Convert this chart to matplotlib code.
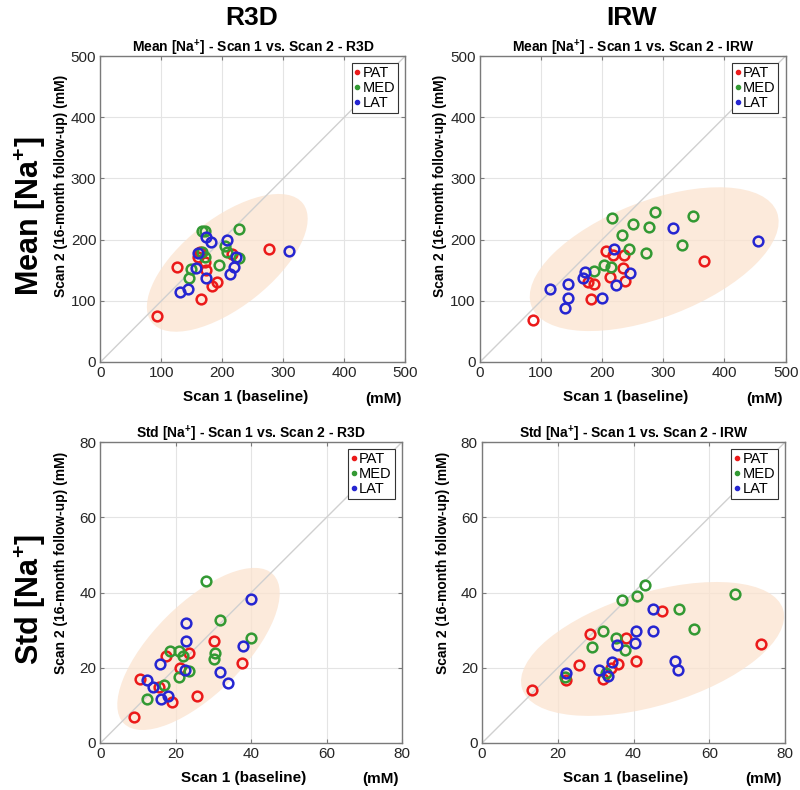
import numpy as np
import matplotlib
matplotlib.use("Agg")
import matplotlib.pyplot as plt
from matplotlib.patches import Ellipse
from matplotlib.lines import Line2D

plt.rcParams["font.family"] = ["Liberation Sans", "DejaVu Sans"]
plt.rcParams["mathtext.fontset"] = "custom"
plt.rcParams["mathtext.rm"] = "Liberation Sans"
plt.rcParams["mathtext.bf"] = "Liberation Sans:bold"
plt.rcParams["mathtext.default"] = "bf"

# ---- data ----
# Mean [Na+], R3D
r3d_mean_pat_x = [92, 126, 165, 183, 191, 173, 171, 160, 163, 216, 276]
r3d_mean_pat_y = [75, 155, 103, 124, 130, 150, 163, 172, 180, 177, 184]
r3d_mean_med_x = [166, 171, 227, 204, 207, 228, 194, 148, 146, 166, 171]
r3d_mean_med_y = [214, 214, 217, 189, 180, 170, 159, 152, 137, 180, 172]
r3d_mean_lat_x = [131, 144, 157, 173, 160, 173, 181, 208, 219, 212, 223, 310]
r3d_mean_lat_y = [115, 120, 153, 137, 178, 204, 196, 200, 155, 144, 172, 182]

# Mean [Na+], IRW
irw_mean_pat_x = [86, 181, 177, 187, 212, 238, 234, 236, 206, 218, 367]
irw_mean_pat_y = [68, 103, 130, 127, 139, 133, 154, 175, 182, 175, 165]
irw_mean_med_x = [216, 286, 349, 251, 277, 233, 244, 331, 272, 203, 214, 187]
irw_mean_med_y = [236, 245, 239, 226, 220, 207, 184, 191, 178, 158, 155, 148]
irw_mean_lat_x = [115, 144, 144, 139, 172, 169, 200, 223, 246, 220, 315, 455]
irw_mean_lat_y = [120, 128, 104, 88, 147, 137, 104, 126, 146, 184, 219, 197]

# Std [Na+], R3D
r3d_std_pat_x = [8.8, 10.6, 15.6, 17.5, 19, 21, 23.4, 25.5, 30, 37.5]
r3d_std_pat_y = [7, 17, 15, 23, 11, 20, 24, 12.5, 27, 21.3]
r3d_std_med_x = [28, 31.7, 40, 30.5, 30, 18.4, 20.8, 21.8, 20.9, 16.8, 12.3, 23.4]
r3d_std_med_y = [43, 32.7, 28, 24, 22.2, 24.4, 24.4, 23, 17.5, 15.3, 11.6, 19.2]
r3d_std_lat_x = [39.8, 22.6, 22.8, 37.9, 15.7, 22.4, 31.7, 33.8, 12.3, 14, 18, 16]
r3d_std_lat_y = [38.2, 31.9, 27.2, 25.9, 21.1, 19.5, 18.8, 15.9, 16.7, 14.9, 12.5, 11.6]

# Std [Na+], IRW
irw_std_pat_x = [13.2, 22.1, 25.6, 28.6, 31.9, 34, 36, 38, 40.7, 47.6, 73.6]
irw_std_pat_y = [14, 16.8, 20.7, 29, 17.1, 20, 21, 28, 21.7, 35, 26.2]
irw_std_med_x = [43, 37, 41, 66.8, 52, 56, 31.9, 35.4, 29, 37.7, 21.8, 32.8]
irw_std_med_y = [42, 38, 39, 39.6, 35.5, 30.4, 29.7, 28, 25.5, 24.8, 17.6, 18.5]
irw_std_lat_x = [45, 40.7, 45.2, 40.3, 35.7, 34.4, 30.9, 33.2, 22.2, 50.8, 51.8]
irw_std_lat_y = [35.5, 29.8, 29.7, 26.6, 26, 21.5, 19.5, 17.8, 18.5, 21.8, 19.4]

groups = ["PAT", "MED", "LAT"]
colors = [(0.92, 0.1, 0.1), (0.2, 0.6, 0.2), (0.15, 0.15, 0.82)]

# ellipse: centre x, centre y, width, height, angle
ell_r3d_mean = [208, 162, 315, 145, 38]
ell_irw_mean = [285, 168, 430, 190, 21]
ell_r3d_std = [26, 25, 56, 24, 45]
ell_irw_std = [45, 25, 72, 30, 17]

panels = [
    ("Mean [Na$^{+}$] - Scan 1 vs. Scan 2 - R3D", 500, 100, ell_r3d_mean,
     [(r3d_mean_pat_x, r3d_mean_pat_y), (r3d_mean_med_x, r3d_mean_med_y), (r3d_mean_lat_x, r3d_mean_lat_y)]),
    ("Mean [Na$^{+}$] - Scan 1 vs. Scan 2 - IRW", 500, 100, ell_irw_mean,
     [(irw_mean_pat_x, irw_mean_pat_y), (irw_mean_med_x, irw_mean_med_y), (irw_mean_lat_x, irw_mean_lat_y)]),
    ("Std [Na$^{+}$] - Scan 1 vs. Scan 2 - R3D", 80, 20, ell_r3d_std,
     [(r3d_std_pat_x, r3d_std_pat_y), (r3d_std_med_x, r3d_std_med_y), (r3d_std_lat_x, r3d_std_lat_y)]),
    ("Std [Na$^{+}$] - Scan 1 vs. Scan 2 - IRW", 80, 20, ell_irw_std,
     [(irw_std_pat_x, irw_std_pat_y), (irw_std_med_x, irw_std_med_y), (irw_std_lat_x, irw_std_lat_y)]),
]

positions = [
    [0.1256, 0.5418, 0.381, 0.3873],
    [0.6000, 0.5418, 0.382, 0.3873],
    [0.1256, 0.0595, 0.377, 0.3810],
    [0.6025, 0.0595, 0.379, 0.3810],
]
ylab_pos = [0.575, 0.575, 0.598, 0.598]

fig = plt.figure(figsize=(8, 7.9), dpi=100)

for i, (title, lim, step, ell, series) in enumerate(panels):
    ax = fig.add_axes(positions[i])
    ax.set_xlim(0, lim)
    ax.set_ylim(0, lim)
    ax.set_xticks(np.arange(0, lim + 1, step))
    ax.set_yticks(np.arange(0, lim + 1, step))
    ax.grid(True, color="#e4e4e4", linewidth=0.8, zorder=0)
    ax.set_axisbelow(True)

    e = Ellipse((ell[0], ell[1]), ell[2], ell[3], angle=ell[4],
                facecolor="#fbe3cf", edgecolor="none", alpha=0.75, zorder=1)
    ax.add_patch(e)
    ax.plot([0, lim], [0, lim], color="#d0d0d0", linewidth=1, zorder=2)

    for (xs, ys), c in zip(series, colors):
        ax.plot(xs, ys, linestyle="none", marker="o", markersize=7,
                markerfacecolor="none", markeredgecolor=c, markeredgewidth=1.8, zorder=3)

    handles = [Line2D([], [], linestyle="none", marker=".", markersize=6, color=c)
               for c in colors]
    leg = ax.legend(handles, groups, loc="upper right", fontsize=10.5,
                    handlelength=0.4, handletextpad=0.15, borderpad=0.2,
                    labelspacing=0.05, borderaxespad=0.5, fancybox=False,
                    framealpha=1)
    leg.get_frame().set_edgecolor("#333333")
    leg.get_frame().set_linewidth(0.8)

    ax.tick_params(direction="in", length=3, labelsize=11, colors="#7a7a7a",
                   labelcolor="#262626", top=True, right=True, pad=3)
    for s in ax.spines.values():
        s.set_color("#7a7a7a")
        s.set_linewidth(1.0)

    ax.set_title(title, fontsize=10, fontweight="bold", pad=3)
    ax.text(0.475, -0.115, "Scan 1 (baseline)", transform=ax.transAxes,
            ha="center", va="center", fontsize=11, fontweight="bold")
    ax.text(0.93, -0.12, "(mM)", transform=ax.transAxes,
            ha="center", va="center", fontsize=11, fontweight="bold")
    ax.text(-0.13, ylab_pos[i], "Scan 2 (16-month follow-up) (mM)",
            transform=ax.transAxes, rotation=90, ha="center", va="center",
            fontsize=10, fontweight="bold")

fig.text(252 / 800, 1 - 18 / 790, "R3D", ha="center", va="center",
         fontsize=19, fontweight="bold")
fig.text(632 / 800, 1 - 18 / 790, "IRW", ha="center", va="center",
         fontsize=19, fontweight="bold")
fig.text(30 / 800, 1 - 216 / 790, "Mean [Na$^{+}$]", rotation=90,
         ha="center", va="center", fontsize=22, fontweight="bold")
fig.text(30 / 800, 1 - 600 / 790, "Std [Na$^{+}$]", rotation=90,
         ha="center", va="center", fontsize=22, fontweight="bold")

fig.savefig("out.png", dpi=100)
